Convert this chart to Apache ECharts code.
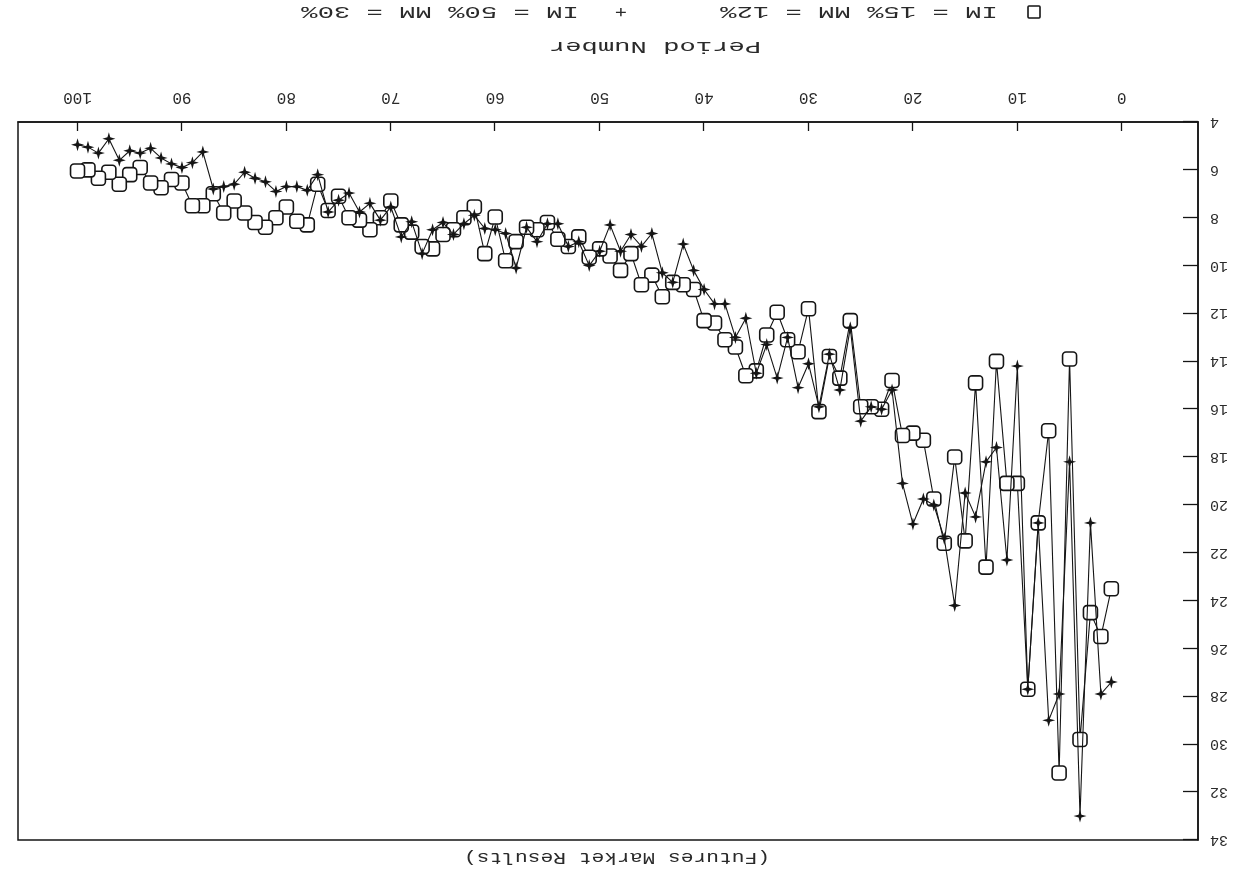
<!DOCTYPE html>
<html>
<head>
<meta charset="utf-8">
<script src="https://cdn.jsdelivr.net/npm/echarts@6/dist/echarts.min.js"></script>
<style>
html,body{margin:0;padding:0;background:#fff;}
#chart{width:1250px;height:878px;transform:rotate(180deg);}
</style>
</head>
<body>
<div id="chart"></div>
<script>
// Period numbers
const periods = [1,2,3,4,5,6,7,8,9,10,11,12,13,14,15,16,17,18,19,20,
  21,22,23,24,25,26,27,28,29,30,31,32,33,34,35,36,37,38,39,40,
  41,42,43,44,45,46,47,48,49,50,51,52,53,54,55,56,57,58,59,60,
  61,62,63,64,65,66,67,68,69,70,71,72,73,74,75,76,77,78,79,80,
  81,82,83,84,85,86,87,88,89,90,91,92,93,94,95,96,97,98,99,100];

// IM = 15% MM = 12% (squares)
const im15 = [23.5,25.5,24.5,29.8,13.9,31.2,16.9,20.75,27.7,19.1,
  19.1,14.0,22.6,14.9,21.5,18.0,21.6,19.75,17.3,17.0,
  17.1,14.8,16.0,15.9,15.9,12.3,14.7,13.8,16.1,11.8,
  13.6,13.1,11.95,12.9,14.4,14.6,13.4,13.1,12.4,12.3,
  11.0,10.8,10.7,11.3,10.4,10.8,9.5,10.2,9.6,9.3,
  9.65,8.8,9.2,8.9,8.2,8.5,8.4,9.0,9.8,7.97,
  9.5,7.55,8.0,8.5,8.7,9.3,9.2,8.6,8.3,7.3,
  8.0,8.5,8.1,8.0,7.1,7.7,6.6,8.3,8.15,7.55,
  8.0,8.4,8.2,7.8,7.3,7.8,7.0,7.5,7.5,6.55,
  6.4,6.75,6.55,5.9,6.2,6.6,6.1,6.35,6.0,6.05];

// IM = 50% MM = 30% (stars)
const im50 = [27.4,27.9,20.75,33.0,18.2,27.9,29.0,20.75,27.7,14.2,
  22.3,17.6,18.2,20.5,19.5,24.2,21.4,20.0,19.75,20.8,
  19.1,15.2,16.0,15.9,16.5,12.6,15.2,13.7,15.9,14.1,
  15.1,13.0,14.7,13.3,14.5,12.2,13.0,11.6,11.6,11.0,
  10.2,9.1,10.7,10.3,8.66,9.2,8.7,9.4,8.3,9.4,
  10.0,9.0,9.2,8.25,8.25,9.0,8.4,10.1,8.66,8.5,
  8.45,7.9,8.25,8.7,8.2,8.5,9.5,8.17,8.8,7.55,
  8.1,7.4,7.76,6.97,7.27,7.76,6.2,6.85,6.7,6.7,
  6.9,6.5,6.35,6.1,6.6,6.7,6.8,5.25,5.7,5.9,
  5.75,5.5,5.1,5.3,5.2,5.6,4.7,5.3,5.05,4.95];

const xTicks = [0,10,20,30,40,50,60,70,80,90,100];
const titleText = '(Futures Market Results)';
const xName = 'Period Number';
const legend1 = 'IM = 15% MM = 12%';
const legend2 = 'IM = 50% MM = 30%';

const FONT = '"Liberation Mono", "DejaVu Sans Mono", monospace';
const INK = '#151515';
const TXT = '#2a2a2a';
const starPath = 'path://M0,-10L2.2,-2.2L10,0L2.2,2.2L0,10L-2.2,2.2L-10,0L-2.2,-2.2Z';

const chart = echarts.init(document.getElementById('chart'), null, {renderer: 'canvas'});

function txt(x, y, text, size, sx) {
  return {type: 'text', x: x, y: y, scaleX: sx, originX: 0, originY: 0,
    style: {text: text, font: size + 'px ' + FONT, fill: TXT, align: 'center', verticalAlign: 'middle'}};
}

chart.setOption({
  animation: false,
  backgroundColor: '#fff',
  grid: {left: 52, top: 38, width: 1180, height: 718, show: true,
    borderColor: INK, borderWidth: 1.5, backgroundColor: 'transparent'},
  xAxis: {
    type: 'value', min: -7.3, max: 105.7, position: 'bottom',
    axisLine: {show: true, onZero: false, lineStyle: {color: INK, width: 1.5}},
    axisTick: {show: true, inside: true, length: 9, customValues: xTicks, lineStyle: {color: INK, width: 1.3}},
    axisLabel: {show: true, customValues: xTicks, margin: 17, color: TXT, fontSize: 16, fontFamily: FONT},
    splitLine: {show: false}
  },
  yAxis: {
    type: 'value', min: 4, max: 34, interval: 2, position: 'left',
    axisLine: {show: true, onZero: false, lineStyle: {color: INK, width: 1.5}},
    axisTick: {show: true, inside: true, length: 15, lineStyle: {color: INK, width: 1.3}},
    axisLabel: {show: true, margin: 12, color: TXT, fontSize: 15, fontFamily: FONT, showMaxLabel: true, showMinLabel: true},
    splitLine: {show: false}
  },
  series: [
    {
      name: legend1, type: 'line',
      data: periods.map((p, i) => [p, im15[i]]),
      symbol: 'roundRect', symbolSize: 14,
      itemStyle: {color: '#fff', borderColor: INK, borderWidth: 1.6},
      lineStyle: {color: INK, width: 1.1},
      z: 2
    },
    {
      name: legend2, type: 'line',
      data: periods.map((p, i) => [p, im50[i]]),
      symbol: starPath, symbolSize: 13,
      itemStyle: {color: INK, borderWidth: 0},
      lineStyle: {color: INK, width: 1.1},
      z: 3
    }
  ],
  graphic: [
    txt(633, 20, titleText, 17, 1.25),
    txt(595, 831, xName, 17, 1.6),
    {type: 'rect', shape: {x: 210, y: 860, width: 12, height: 12, r: 1},
      style: {fill: '#fff', stroke: INK, lineWidth: 1.6}},
    txt(391, 866, legend1, 17, 1.6),
    txt(629, 866, '+', 17, 1.2),
    txt(810, 866, legend2, 17, 1.6)
  ]
});
</script>
</body>
</html>
